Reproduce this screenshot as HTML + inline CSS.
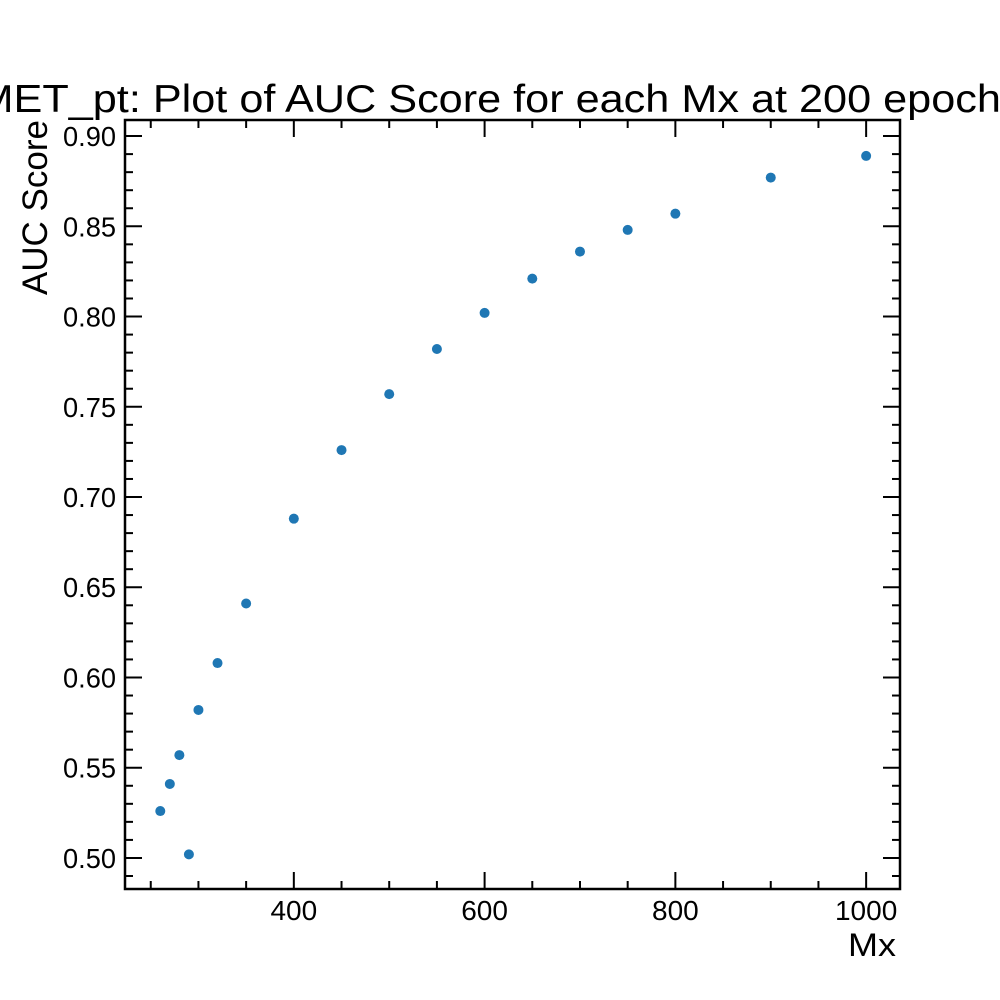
<!DOCTYPE html>
<html><head><meta charset="utf-8"><style>
html,body{margin:0;padding:0;background:#fff;}
svg{display:block;font-family:"Liberation Sans",sans-serif;}
</style></head><body>
<svg id="chart" width="1000" height="1000" viewBox="0 0 1000 1000">
<rect width="1000" height="1000" fill="#fff"/>
<text x="500" y="112" font-size="39" text-anchor="middle" textLength="1045" lengthAdjust="spacingAndGlyphs">MET_pt: Plot of AUC Score for each Mx at 200 epochs</text>
<g id="ticks"></g>
<g id="points"></g>
<rect x="125" y="120" width="775" height="769" fill="none" stroke="#000" stroke-width="2.5"/>
<text x="896" y="956" font-size="32" text-anchor="end" textLength="48" lengthAdjust="spacingAndGlyphs">Mx</text>
<text transform="translate(47,120) rotate(-90)" font-size="35" text-anchor="end">AUC Score</text>
</svg>
<script>
const mxValues = [260,270,280,290,300,320,350,400,450,500,550,600,650,700,750,800,900,1000];
const aucValues = [0.526,0.541,0.557,0.502,0.582,0.608,0.641,0.688,0.726,0.757,0.782,0.802,0.821,0.836,0.848,0.857,0.877,0.889];
const xTickLabels = [400,600,800,1000];
const yTickLabels = ["0.50","0.55","0.60","0.65","0.70","0.75","0.80","0.85","0.90"];

const X0=125,X1=900,Y0=120,Y1=889;
const xMin=223,xMax=1035.5,yMin=0.4828,yMax=0.9089;
function xs(v){return X0+(v-xMin)/(xMax-xMin)*(X1-X0);}
function ys(v){return Y1-(v-yMin)/(yMax-yMin)*(Y1-Y0);}
const NS="http://www.w3.org/2000/svg";
const tg=document.getElementById('ticks'), pg=document.getElementById('points');
function line(x1,y1,x2,y2,name){const l=document.createElementNS(NS,'line');
l.setAttribute('x1',x1);l.setAttribute('y1',y1);l.setAttribute('x2',x2);l.setAttribute('y2',y2);
l.setAttribute('stroke','#000');l.setAttribute('stroke-width','2');


tg.appendChild(l);}
function text(x,y,s,anchor,name,len){const t=document.createElementNS(NS,'text');
t.setAttribute('x',x);t.setAttribute('y',y);t.setAttribute('font-size','28');t.setAttribute('text-anchor',anchor);
if(len){t.setAttribute('textLength',len);t.setAttribute('lengthAdjust','spacingAndGlyphs');}
t.textContent=s;


tg.appendChild(t);}
for(let v=250;v<=1035;v+=50){const x=xs(v);const major=v%200===0;const L=major?17:8;
line(x,Y1,x,Y1-L,'x-tick');line(x,Y0,x,Y0+L,'x-tick-top');}
xTickLabels.forEach(v=>text(xs(v),920,String(v),'middle','x-tick-label'));
for(let i=49;i<=90;i++){const v=i/100;const y=ys(v);const major=i%5===0;const L=major?17:8;
line(X0,y,X0+L,y,'y-tick');line(X1,y,X1-L,y,'y-tick-right');}
yTickLabels.forEach(s=>text(116,ys(parseFloat(s))+10,s,'end','y-tick-label',53));
mxValues.forEach((m,i)=>{const c=document.createElementNS(NS,'circle');
c.setAttribute('cx',xs(m));c.setAttribute('cy',ys(aucValues[i]));c.setAttribute('r','5');c.setAttribute('fill','#1f77b4');


pg.appendChild(c);});
</script>
</body></html>
